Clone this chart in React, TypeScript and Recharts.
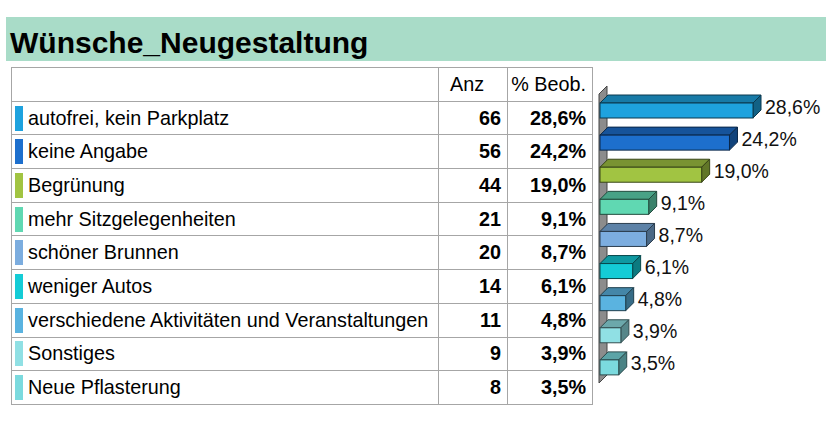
import React from 'react';
import * as RC from 'recharts';
import { BarChart, Bar, XAxis, YAxis, LabelList } from 'recharts';

const categories = [
  'autofrei, kein Parkplatz',
  'keine Angabe',
  'Begrünung',
  'mehr Sitzgelegenheiten',
  'schöner Brunnen',
  'weniger Autos',
  'verschiedene Aktivitäten und Veranstaltungen',
  'Sonstiges',
  'Neue Pflasterung',
];
const counts = [66, 56, 44, 21, 20, 14, 11, 9, 8];
const percents = [28.6, 24.2, 19.0, 9.1, 8.7, 6.1, 4.8, 3.9, 3.5];
const colors = [
  '#1ea2de',
  '#1d6fcd',
  '#a1c442',
  '#60d8b2',
  '#7caddf',
  '#14ccd6',
  '#5ab3e0',
  '#90e0e4',
  '#7bdade',
];
const headers = ['', 'Anz', '% Beob.'];
const title = 'Wünsche_Neugestaltung';

const FONT = '"Liberation Sans", Arial, Helvetica, sans-serif';
const DEPTH = 8;

const data = categories.map((name, i) => ({
  name,
  anz: counts[i],
  pct: percents[i],
  color: colors[i],
}));

const fmtPct = (v: number) => v.toFixed(1).replace('.', ',') + '%';

function shade(hex: string, f: number) {
  const n = parseInt(hex.slice(1), 16);
  const r = Math.round(((n >> 16) & 255) * f);
  const g = Math.round(((n >> 8) & 255) * f);
  const b = Math.round((n & 255) * f);
  return `rgb(${r},${g},${b})`;
}

const Bar3D = (props: any) => {
  const { x, y, width, height, payload } = props;
  const c = payload.color;
  const d = DEPTH;
  const edge = shade(c, 0.35);
  return (
    <g>
      <polygon
        points={`${x},${y} ${x + d},${y - d} ${x + width + d},${y - d} ${x + width},${y}`}
        fill={shade(c, 0.75)}
        stroke={edge}
        strokeWidth={1}
      />
      <polygon
        points={`${x + width},${y} ${x + width + d},${y - d} ${x + width + d},${y + height - d} ${x + width},${y + height}`}
        fill={shade(c, 0.6)}
        stroke={edge}
        strokeWidth={1}
      />
      <rect x={x} y={y} width={width} height={height} fill={c} stroke={edge} strokeWidth={1} />
    </g>
  );
};

const PctLabel = (props: any) => {
  const { x, y, width, height, value } = props;
  return (
    <text
      x={x + width + DEPTH + 4}
      y={y + height / 2 - 4}
      dominantBaseline="central"
      fontSize={19.5}
      fontFamily={FONT}
      fill="#111"
    >
      {fmtPct(value)}
    </text>
  );
};

const usePlotAreaSafe: () => any = (RC as any).usePlotArea ?? (() => null);

// grey back wall of the 3D chart
function Wall() {
  const area = usePlotAreaSafe();
  if (!area) return null;
  const L = area.x - 1;
  const T = area.y;
  const B = area.y + area.height;
  const d = DEPTH;
  return (
    <polygon
      points={`${L},${T} ${L + d},${T - d} ${L + d},${B - d} ${L},${B}`}
      fill="#8c8c8c"
      stroke="#444"
      strokeWidth={1}
    />
  );
}

const cellBorder = '1px solid #a6a6a6';

export default function App() {
  return (
    <div
      style={{
        position: 'absolute',
        left: 0,
        top: 0,
        width: 836,
        height: 430,
        background: '#fff',
        fontFamily: FONT,
        overflow: 'hidden',
      }}
    >
      <div
        style={{
          position: 'absolute',
          left: 6,
          top: 17,
          width: 820,
          height: 44,
          background: '#a9dcc8',
          fontSize: 30,
          fontWeight: 700,
          lineHeight: '52px',
          paddingLeft: 4,
          boxSizing: 'border-box',
          color: '#000',
          whiteSpace: 'nowrap',
        }}
      >
        {title}
      </div>

      <table
        style={{
          position: 'absolute',
          left: 11,
          top: 67,
          width: 581,
          borderCollapse: 'collapse',
          tableLayout: 'fixed',
          fontSize: 19.8,
          color: '#000',
        }}
      >
        <colgroup>
          <col style={{ width: 427 }} />
          <col style={{ width: 69 }} />
          <col style={{ width: 85 }} />
        </colgroup>
        <tbody>
          <tr style={{ height: 33.7 }}>
            <td style={{ border: cellBorder, padding: 0 }}>{headers[0]}</td>
            <td style={{ border: cellBorder, padding: '0 12px 0 0', textAlign: 'center' }}>{headers[1]}</td>
            <td style={{ border: cellBorder, padding: '0 6px 0 0', textAlign: 'right' }}>{headers[2]}</td>
          </tr>
          {data.map((row) => (
            <tr key={row.name} style={{ height: 33.7 }}>
              <td style={{ border: cellBorder, padding: 0, whiteSpace: 'nowrap', overflow: 'hidden' }}>
                <div style={{ display: 'flex', alignItems: 'center' }}>
                  <div style={{ width: 8, height: 25, background: row.color, marginLeft: 3, marginRight: 5, flex: 'none' }} />
                  <span>{row.name}</span>
                </div>
              </td>
              <td style={{ border: cellBorder, padding: '0 6px 0 0', textAlign: 'right', fontWeight: 700 }}>{row.anz}</td>
              <td style={{ border: cellBorder, padding: '0 6px 0 0', textAlign: 'right', fontWeight: 700 }}>{fmtPct(row.pct)}</td>
            </tr>
          ))}
        </tbody>
      </table>

      <div style={{ position: 'absolute', left: 0, top: 0 }}>
        <BarChart
          width={836}
          height={430}
          data={data}
          layout="vertical"
          margin={{ top: 94, right: 22, left: 600, bottom: 47 }}
          barCategoryGap={0}
        >
          <XAxis type="number" domain={[0, 40]} hide />
          <YAxis type="category" dataKey="name" hide />
          <Wall />
          <Bar dataKey="pct" barSize={15} shape={<Bar3D />} isAnimationActive={false}>
            <LabelList dataKey="pct" content={<PctLabel />} />
          </Bar>
        </BarChart>
      </div>
    </div>
  );
}
